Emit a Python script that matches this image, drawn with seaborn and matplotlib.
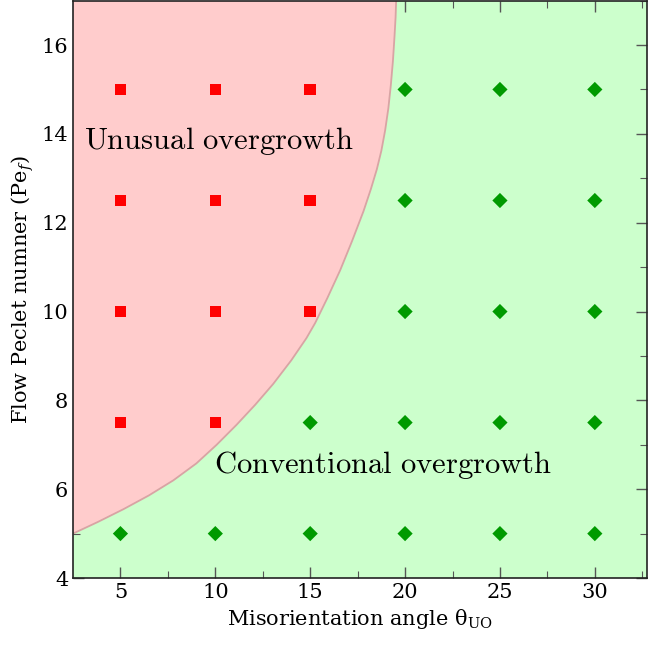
import numpy as np
import pandas as pd
import matplotlib
matplotlib.use("Agg")
import matplotlib.pyplot as plt
import seaborn as sns

# Simulation points
unusual_x = [5, 5, 5, 5, 10, 10, 10, 10, 15, 15, 15]
unusual_y = [7.5, 10, 12.5, 15, 7.5, 10, 12.5, 15, 10, 12.5, 15]
conv_x = [5, 10, 15, 15, 20, 20, 20, 20, 20, 25, 25, 25, 25, 25, 30, 30, 30, 30, 30]
conv_y = [5, 5, 5, 7.5, 5, 7.5, 10, 12.5, 15, 5, 7.5, 10, 12.5, 15, 5, 7.5, 10, 12.5, 15]

# Regime boundary
bound_x = [2.5, 3.8, 5.16, 6.5, 7.79, 9.0, 10.07, 11.12, 12.1, 13.05, 14.0, 14.8,
           15.26, 15.9, 16.58, 17.2, 17.81, 18.2, 18.51, 18.75, 18.95, 19.12,
           19.25, 19.36, 19.44, 19.5, 19.53]
bound_y = [5.0, 5.26, 5.55, 5.86, 6.2, 6.58, 7.0, 7.45, 7.9, 8.37, 8.9, 9.4,
           9.74, 10.3, 10.93, 11.58, 12.26, 12.76, 13.2, 13.62, 14.08, 14.58,
           15.1, 15.64, 16.17, 16.62, 17.0]

x_ticks = [5, 10, 15, 20, 25, 30]
y_ticks = [4, 6, 8, 10, 12, 14, 16]

sns.set_style("ticks")
plt.rcParams['font.family'] = ['DejaVu Serif', 'DejaVu Sans']
plt.rcParams['mathtext.fontset'] = 'dejavuserif'
plt.rcParams['text.color'] = 'black'
plt.rcParams['axes.labelcolor'] = 'black'
plt.rcParams['xtick.labelcolor'] = 'black'
plt.rcParams['ytick.labelcolor'] = 'black'

fig = plt.figure(figsize=(6.5, 6.48), dpi=100)
ax = fig.add_axes([0.1123, 0.108, 0.8831, 0.891])

XMIN, XMAX, YMIN, YMAX = 2.5, 32.75, 4, 17
ax.set_xlim(XMIN, XMAX)
ax.set_ylim(YMIN, YMAX)
ax.set_facecolor('#ccffcc')

px = bound_x + [XMIN]
py = bound_y + [YMAX]
ax.fill(px, py, color='#ffcccc', zorder=1, lw=0)
ax.plot(bound_x, bound_y, color='#d8a4a4', lw=1.3, zorder=2, solid_joinstyle='round')

df_u = pd.DataFrame({'x': unusual_x, 'y': unusual_y})
df_c = pd.DataFrame({'x': conv_x, 'y': conv_y})
sns.scatterplot(data=df_u, x='x', y='y', ax=ax, marker='s', color='#ff0000',
                s=70, edgecolor='none', zorder=3)
sns.scatterplot(data=df_c, x='x', y='y', ax=ax, marker='D', color='#009a00',
                s=60, edgecolor='none', zorder=3)

plt.rcParams['mathtext.fontset'] = 'cm'
ax.text(3.1, 13.84, r'$\mathrm{Unusual\ overgrowth}$', fontsize=22, va='center', ha='left',
        zorder=4, color='black')
ax.text(9.95, 6.54, r'$\mathrm{Conventional\ overgrowth}$', fontsize=22, va='center', ha='left',
        zorder=4, color='black')

ax.set_xticks(x_ticks)
ax.set_yticks(y_ticks)
ax.set_xticks([7.5, 12.5, 17.5, 22.5, 27.5, 32.5], minor=True)
ax.set_yticks([5, 7, 9, 11, 13, 15, 17], minor=True)
ax.tick_params(which='both', direction='in', top=True, right=True, color='#555555')
ax.tick_params(which='major', length=8, width=1, labelsize=15)
ax.tick_params(which='minor', length=5, width=0.8)
for s in ax.spines.values():
    s.set_color('#222222')
    s.set_linewidth(1.2)

ax.set_xlabel('Misorientation angle θ$_{\\mathrm{UO}}$', fontsize=15, family='DejaVu Serif')
ax.set_ylabel('Flow Peclet numner (Pe$_{f}$)', fontsize=15, family='DejaVu Serif')

fig.savefig('out.png', dpi=100)
